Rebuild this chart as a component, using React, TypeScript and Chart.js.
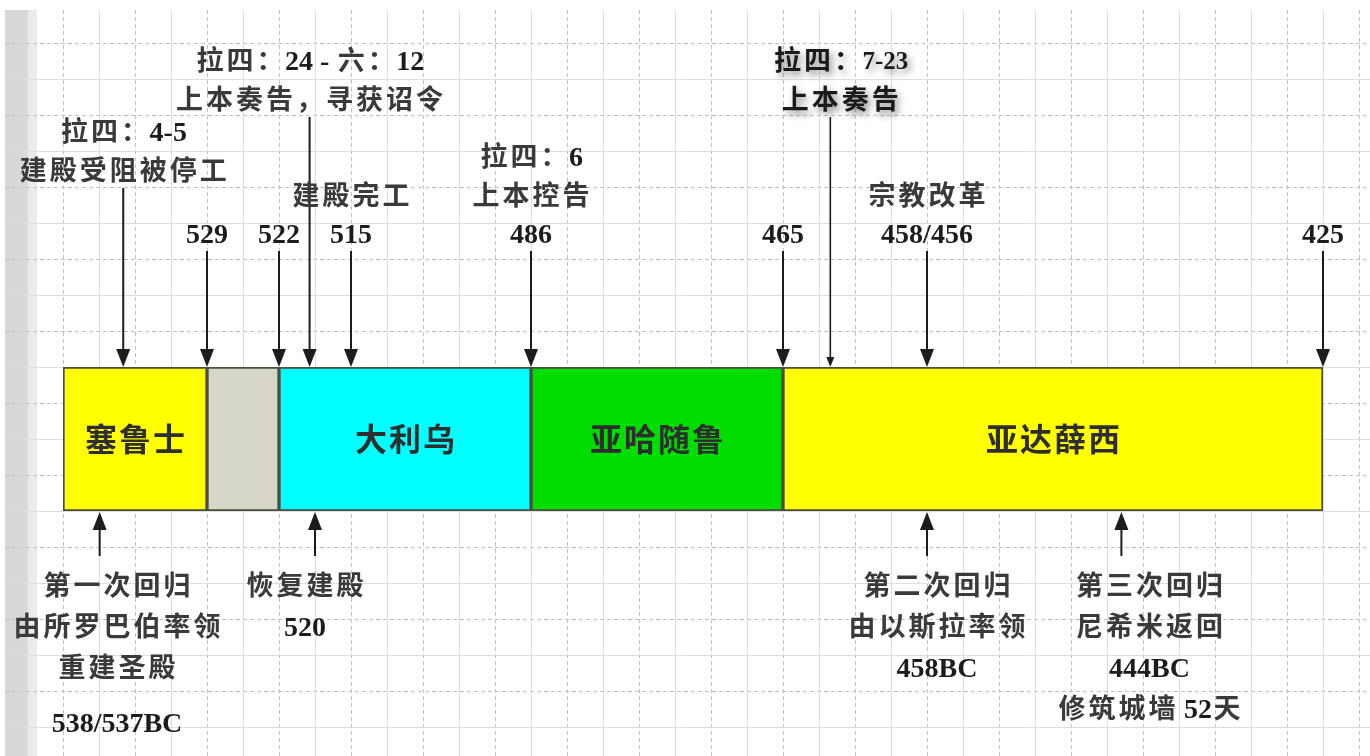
import React, { useEffect, useRef } from 'react';
import { Chart, registerables, LinearScale } from 'chart.js';

// ---------- data ----------
const eraNames = ['塞鲁士', '', '大利乌', '亚哈随鲁', '亚达薛西'];
const eraStart = [540, 529, 522, 486, 465];
const eraEnd = [529, 522, 486, 465, 425];
const eraColors = ['#ffff00', '#d6d6cb', '#00ffff', '#00dd00', '#ffff00'];

// schematic (not-to-scale) time axis: years and their relative column on the strip
const axisYears = [540, 529, 522, 520, 515, 486, 465, 458, 444, 425];
const axisCols = [0, 4, 6, 7, 8, 13, 20, 24, 29.4, 35];

const topYears = [535.4, 529, 522, 520.3, 515, 486, 465, 462.7, 458, 425];
const topTicks = ['', '529', '522', '', '515', '486', '465', '', '458/456', '425'];
const topNotes: string[][] = [
  ['拉四：4-5', '建殿受阻被停工'],
  [],
  [],
  ['拉四：24 - 六：12', '上本奏告，寻获诏令'],
  ['建殿完工'],
  ['拉四：6', '上本控告'],
  [],
  ['拉四：7-23', '上本奏告'],
  ['宗教改革'],
  [],
];
const topTier = [1, 0, 0, 2, 0, 0, 0, 2, 0, 0];
const topEmphasis = [false, false, false, false, false, false, false, true, false, false];

const bottomYears = [537.2, 520, 458, 444];
const bottomNotes: string[][] = [
  ['第一次回归', '由所罗巴伯率领', '重建圣殿', '', '538/537BC'],
  ['恢复建殿', '520'],
  ['第二次回归', '由以斯拉率领', '458BC'],
  ['第三次回归', '尼希米返回', '444BC', '修筑城墙 52天'],
];

// ---------- custom piecewise scale ----------
class PiecewiseScale extends LinearScale {
  static id = 'piecewise';
  static defaults = { ticks: { callback: (v: any) => String(v) } };
  _seg(v: number) {
    const n = axisYears.length;
    let i = 0;
    while (i < n - 2 && v <= axisYears[i + 1]) i++;
    return i;
  }
  getPixelForValue(v: number) {
    const i = this._seg(v);
    const a = axisYears[i], b = axisYears[i + 1];
    const t = (a - v) / (a - b);
    const col = axisCols[i] + t * (axisCols[i + 1] - axisCols[i]);
    return this.getPixelForDecimal(col / axisCols[axisCols.length - 1]);
  }
  getValueForPixel(p: number) {
    const col = this.getDecimalForPixel(p) * axisCols[axisCols.length - 1];
    const n = axisCols.length;
    let i = 0;
    while (i < n - 2 && col >= axisCols[i + 1]) i++;
    const t = (col - axisCols[i]) / (axisCols[i + 1] - axisCols[i]);
    return axisYears[i] + t * (axisYears[i + 1] - axisYears[i]);
  }
}

Chart.register(...registerables, PiecewiseScale as any);

// ---------- text helpers ----------
const FONT_CJK = '"Noto Sans CJK SC", sans-serif';
const FONT_LAT = '"Liberation Serif", "Times New Roman", serif';
type TStyle = { cjk: number; lat: number; cjkWeight: string; spacing: number; color: string; latColor: string };

const isCJK = (ch: string) => ch.charCodeAt(0) >= 0x2e80;

function measureRuns(ctx: CanvasRenderingContext2D, text: string, st: TStyle) {
  const runs: any[] = [];
  let cur: any = null;
  for (const ch of text) {
    if (isCJK(ch)) { runs.push({ text: ch, cjk: true }); cur = null; }
    else if (cur) cur.text += ch;
    else { cur = { text: ch, cjk: false }; runs.push(cur); }
  }
  let total = 0;
  for (const r of runs) {
    r.font = r.cjk ? `${st.cjkWeight} ${st.cjk}px ${FONT_CJK}` : `bold ${st.lat}px ${FONT_LAT}`;
    ctx.font = r.font;
    r.w = ctx.measureText(r.text).width + (r.cjk ? st.spacing : 0);
    total += r.w;
  }
  return { runs, total };
}

function drawLine(ctx: CanvasRenderingContext2D, text: string, cx: number, cy: number, st: TStyle) {
  const { runs, total } = measureRuns(ctx, text, st);
  let x = cx - total / 2;
  ctx.textAlign = 'left';
  ctx.textBaseline = 'alphabetic';
  for (const r of runs) {
    ctx.font = r.font;
    ctx.fillStyle = r.cjk ? st.color : st.latColor;
    const size = r.cjk ? st.cjk : st.lat;
    const base = cy + (r.cjk ? 0.37 * size : 0.34 * size);
    ctx.fillText(r.text, x + (r.cjk ? st.spacing / 2 : 0), base);
    x += r.w;
  }
}

function drawBlock(ctx: CanvasRenderingContext2D, lines: string[], cx: number, firstY: number, step: number, st: TStyle, minLeft: number, maxRight: number) {
  let maxW = 0;
  for (const l of lines) maxW = Math.max(maxW, measureRuns(ctx, l, st).total);
  let c = cx;
  if (c - maxW / 2 < minLeft) c = minLeft + maxW / 2;
  if (c + maxW / 2 > maxRight) c = maxRight - maxW / 2;
  let y = firstY;
  lines.forEach((l) => {
    if (l === '') { y += step * 0.35; return; }
    drawLine(ctx, l, c, y, st);
    y += step;
  });
}

function arrow(ctx: CanvasRenderingContext2D, x: number, y0: number, y1: number, lw: number, hw: number, hl: number) {
  const dir = y1 > y0 ? 1 : -1;
  ctx.strokeStyle = '#1c1c1c';
  ctx.fillStyle = '#1c1c1c';
  ctx.lineWidth = lw;
  ctx.beginPath();
  ctx.moveTo(x, y0);
  ctx.lineTo(x, y1 - dir * hl * 0.8);
  ctx.stroke();
  ctx.beginPath();
  ctx.moveTo(x, y1);
  ctx.lineTo(x - hw / 2, y1 - dir * hl);
  ctx.lineTo(x + hw / 2, y1 - dir * hl);
  ctx.closePath();
  ctx.fill();
}

// ---------- layout constants ----------
const NOTE: TStyle = { cjk: 27, lat: 28, cjkWeight: 'bold', spacing: 3, color: '#3a3a3a', latColor: '#1c1c1c' };
const NOTE_EM: TStyle = { cjk: 27, lat: 25, cjkWeight: 'bold', spacing: 3, color: '#1a1a1a', latColor: '#1a1a1a' };
const BAR_LABEL: TStyle = { cjk: 32, lat: 32, cjkWeight: 'bold', spacing: 2, color: '#2e2e2e', latColor: '#2e2e2e' };
const TICK_Y = 233;
const TIER_LAST = [195, 170, 99];
const TOP_STEP = 39;
const BOTTOM_FIRST = 585;
const BOTTOM_STEP = 41;
const BOTTOM_SHIFT = [0, -10, 10, 28];

const paperPlugin = {
  id: 'paper',
  beforeDraw(chart: any) {
    const { ctx, width, height } = chart;
    ctx.save();
    ctx.fillStyle = '#ffffff';
    ctx.fillRect(0, 0, width, height);
    ctx.fillStyle = '#d8d8d8';
    ctx.fillRect(5, 10, 23, height - 10);
    ctx.fillStyle = '#ebebeb';
    ctx.fillRect(28, 10, 9, height - 10);
    ctx.lineWidth = 1;
    for (let k = -1; 63 + 36 * k < width; k++) {
      const x = 63 + 36 * k + 0.5;
      const dashed = ((k % 2) + 2) % 2 === 0;
      ctx.strokeStyle = dashed ? '#c2c2c2' : '#dedede';
      ctx.setLineDash(dashed ? [4, 3] : []);
      ctx.beginPath();
      ctx.moveTo(x, 10);
      ctx.lineTo(x, height);
      ctx.stroke();
    }
    for (let k = 0; 43 + 36 * k < height; k++) {
      const y = 43 + 36 * k + 0.5;
      const dashed = k % 2 === 0;
      ctx.strokeStyle = dashed ? '#c2c2c2' : '#dedede';
      ctx.setLineDash(dashed ? [4, 3] : []);
      ctx.beginPath();
      ctx.moveTo(5, y);
      ctx.lineTo(width, y);
      ctx.stroke();
    }
    ctx.setLineDash([]);
    ctx.restore();
  },
};

const notesPlugin = {
  id: 'notes',
  afterDatasetsDraw(chart: any) {
    const { ctx } = chart;
    ctx.save();
    chart.data.datasets.forEach((_: any, i: number) => {
      const el = chart.getDatasetMeta(i).data[0];
      if (!el || !eraNames[i]) return;
      const p = el.getCenterPoint();
      drawLine(ctx, eraNames[i], p.x, p.y, BAR_LABEL);
    });
    ctx.restore();
  },
  afterDraw(chart: any) {
    const { ctx, chartArea, scales, width } = chart;
    const xs = scales.x;
    ctx.save();
    topYears.forEach((yr, i) => {
      const x = xs.getPixelForValue(yr);
      const notes = topNotes[i];
      const hasTick = !!topTicks[i];
      const last = TIER_LAST[topTier[i]];
      const em = topEmphasis[i];
      if (em) {
        ctx.save();
        ctx.shadowColor = 'rgba(0,0,0,0.45)';
        ctx.shadowBlur = 7;
        ctx.shadowOffsetX = 3;
        ctx.shadowOffsetY = 4;
      }
      if (notes.length) {
        const first = last - (notes.length - 1) * TOP_STEP;
        drawBlock(ctx, notes, x + (em ? 10 : 0), first, TOP_STEP, em ? NOTE_EM : NOTE, 10, width - 8);
      }
      if (em) ctx.restore();
      if (hasTick) drawLine(ctx, topTicks[i], x, TICK_Y, NOTE);
      const startY = (hasTick ? TICK_Y : last) + 18;
      if (em) arrow(ctx, x, startY, chartArea.top, 1.6, 8, 10);
      else arrow(ctx, x, startY, chartArea.top, 2, 14, 18);
    });
    bottomYears.forEach((yr, i) => {
      const x = xs.getPixelForValue(yr);
      arrow(ctx, x, chartArea.bottom + 45, chartArea.bottom + 1, 2, 14, 18);
      drawBlock(ctx, bottomNotes[i], x + BOTTOM_SHIFT[i], BOTTOM_FIRST, BOTTOM_STEP, NOTE, 12, width - 8);
    });
    ctx.restore();
  },
};

export default function App() {
  const ref = useRef<HTMLCanvasElement>(null);
  useEffect(() => {
    if (!ref.current) return;
    const chart = new Chart(ref.current, {
      type: 'bar',
      data: {
        labels: ['时期'],
        datasets: eraNames.map((name, i) => ({
          label: name || '空档',
          data: [[eraStart[i], eraEnd[i]]] as any,
          backgroundColor: eraColors[i],
          borderColor: '#4d4d3f',
          borderWidth: 2,
          borderSkipped: false,
          grouped: false,
          barPercentage: 1,
          categoryPercentage: 1,
        })),
      },
      options: {
        indexAxis: 'y',
        animation: false,
        responsive: false,
        events: [],
        layout: { padding: { left: 63, right: 47, top: 367, bottom: 245 } },
        scales: {
          x: { type: 'piecewise' as any, display: false, min: 425, max: 540 },
          y: { type: 'category', display: false },
        },
        plugins: { legend: { display: false }, tooltip: { enabled: false } },
      },
      plugins: [paperPlugin, notesPlugin],
    });
    return () => chart.destroy();
  }, []);
  return (
    <div style={{ position: 'fixed', left: 0, top: 0, width: 1370, height: 756 }}>
      <canvas ref={ref} width={1370} height={756} style={{ display: 'block' }} />
    </div>
  );
}
